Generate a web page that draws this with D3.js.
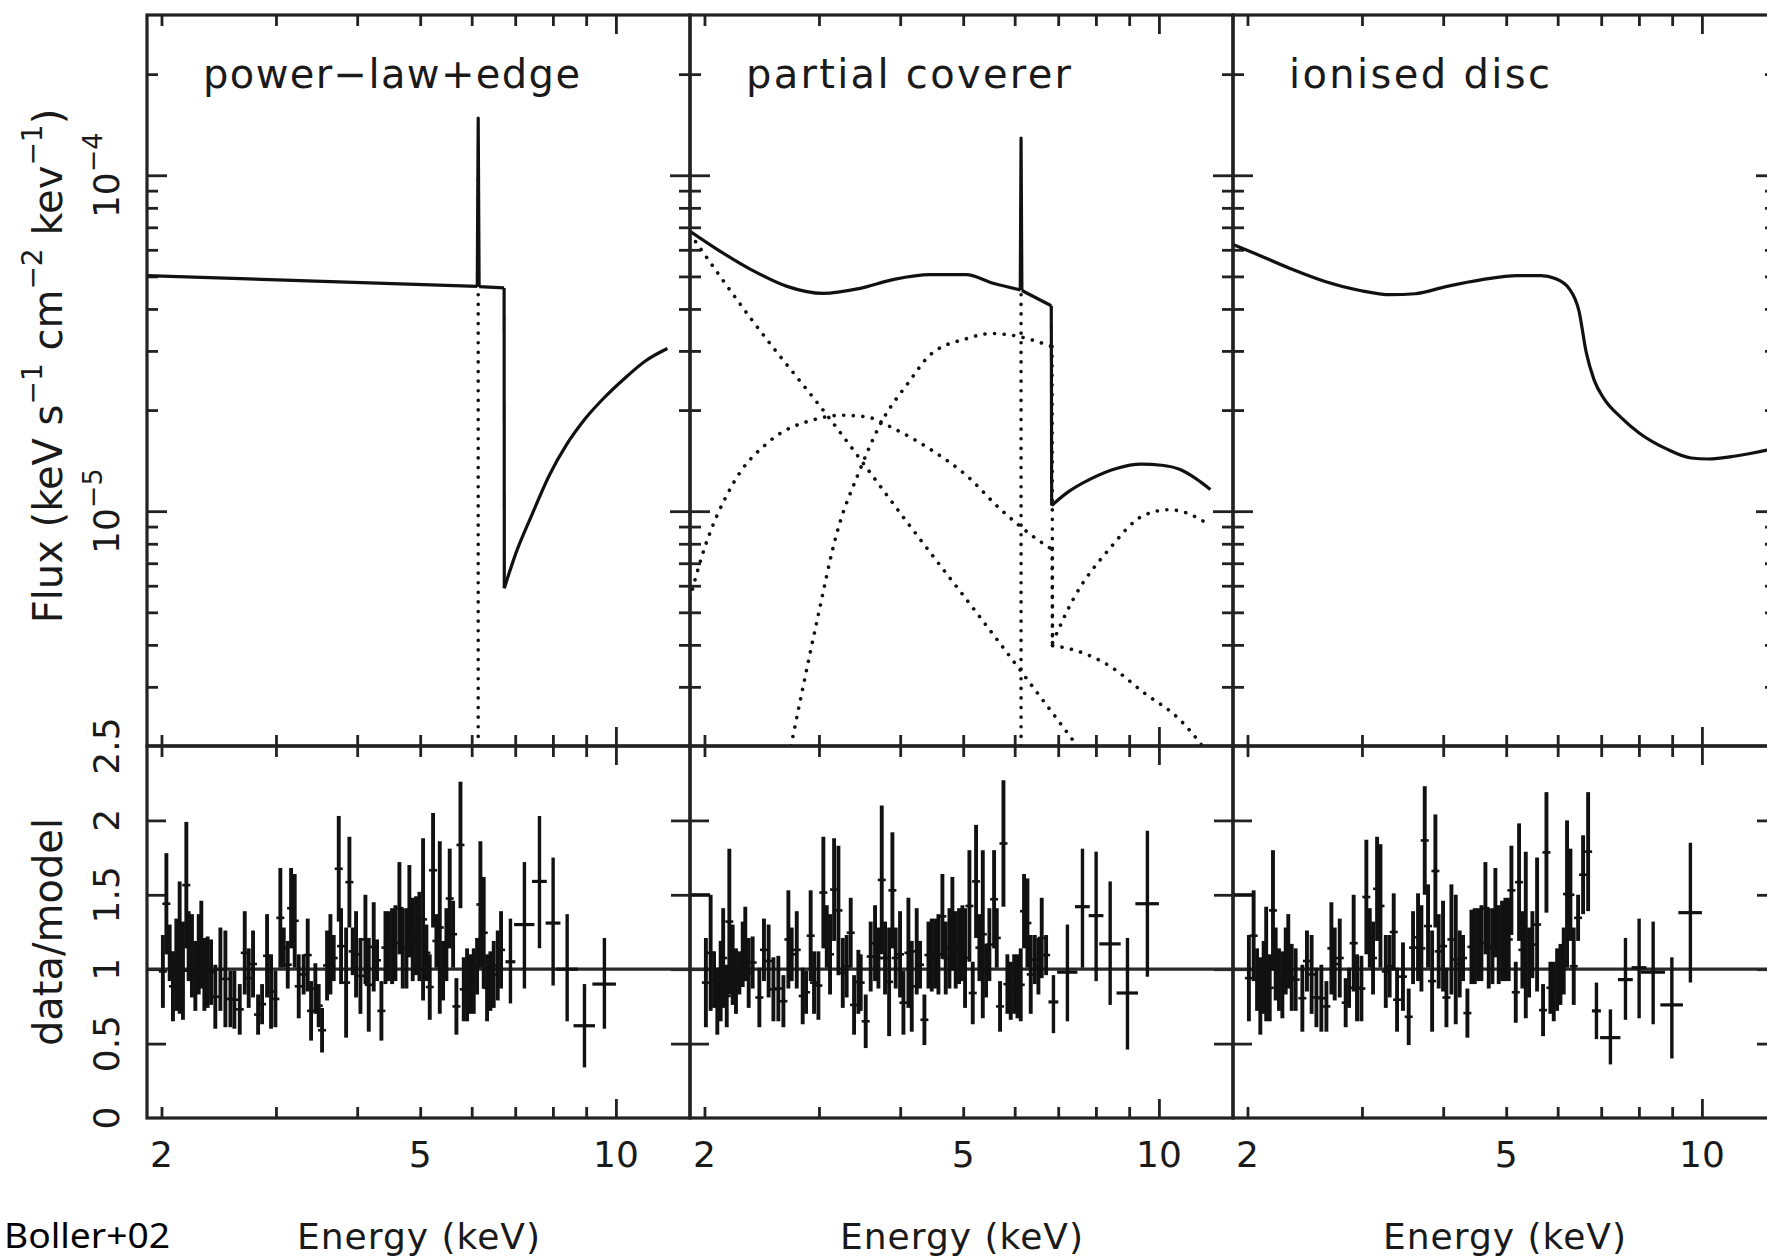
<!DOCTYPE html>
<html>
<head>
<meta charset="utf-8">
<script src="https://cdn.jsdelivr.net/npm/d3@7"></script>
<style>
  body { margin: 0; background: #fff; }
  text { font-family: "DejaVu Sans", sans-serif; fill: #1a1a1a; }
</style>
</head>
<body>
<script>
// three model fits of the same spectrum, upper: model flux, lower: data/model

// ---- axes ----
var energyMinor = [2, 3, 4, 5, 6, 7, 8, 9];
var energyMajor = [10];
var energyLabels = [2, 5, 10];
var fluxMajor = [1e-5, 1e-4];
var fluxMinor = [3e-6, 4e-6, 5e-6, 6e-6, 7e-6, 8e-6, 9e-6, 2e-5, 3e-5, 4e-5, 5e-5, 6e-5, 7e-5, 8e-5, 9e-5, 2e-4];
var fluxLabels = [[1e-5, "5"], [1e-4, "4"]];
var ratioTicks = [0.5, 1, 1.5, 2];
var ratioLabels = [0, 0.5, 1, 1.5, 2, 2.5];
var panelTitles = ["power\u2212law+edge", "partial coverer", "ionised disc"];

// ---- models: [energy keV, flux] pieces ----
var plEdgeModel = [
  [[1.9, 5.03e-5], [6.12, 4.67e-5]],
  [[6.12, 4.67e-5], [6.14, 1.48e-4], [6.16, 4.66e-5]],
  [[6.16, 4.66e-5], [6.73, 4.62e-5]],
  [[6.73, 4.62e-5], [6.735, 5.9e-6]],
  [[6.735, 5.9e-6], [7.0, 7.4e-6], [7.4, 9.6e-6], [7.9, 1.28e-5], [8.4, 1.58e-5], [9.0, 1.9e-5],
   [9.6, 2.18e-5], [10.3, 2.48e-5], [11.1, 2.8e-5], [12.0, 3.05e-5]]
];
var plEdgeLine = [[[6.14, 2e-6], [6.14, 1.0e-4]]];

var pcModel = [
  [[1.9, 6.81e-5], [2.083, 6.05e-5], [2.358, 5.24e-5], [2.679, 4.67e-5], [3.044, 4.45e-5], [3.458, 4.6e-5],
   [3.914, 4.9e-5], [4.447, 5.06e-5], [5.052, 5.06e-5], [5.578, 4.76e-5], [6.12, 4.56e-5]],
  [[6.12, 4.56e-5], [6.137, 1.29e-4], [6.155, 4.54e-5]],
  [[6.155, 4.54e-5], [6.83, 4.09e-5]],
  [[6.83, 4.09e-5], [6.84, 1.04e-5]],
  [[6.84, 1.04e-5], [7.2, 1.13e-5], [7.87, 1.25e-5], [8.6, 1.34e-5], [9.39, 1.38e-5], [10.1, 1.37e-5],
   [10.78, 1.33e-5], [11.4, 1.25e-5], [12.0, 1.16e-5]]
];
var pcSoft = [[[1.9, 6.7e-5], [2.358, 3.74e-5], [3.12, 1.88e-5], [4.129, 9.1e-6], [5.385, 4.66e-6], [7.46, 2.02e-6]]];
var pcHump = [
  [[1.9, 5.5e-6], [1.975, 7.19e-6], [2.22, 1.22e-5], [2.513, 1.61e-5], [2.969, 1.88e-5], [3.244, 1.93e-5],
   [3.545, 1.91e-5], [3.914, 1.76e-5], [4.447, 1.53e-5], [5.052, 1.28e-5], [5.717, 1.01e-5], [6.495, 8.25e-6], [6.85, 7.7e-6]],
  [[6.85, 7.7e-6], [6.86, 3.98e-6]],
  [[6.86, 3.98e-6], [7.378, 3.87e-6], [8.381, 3.47e-6], [9.488, 2.88e-6], [10.78, 2.39e-6], [11.57, 2.04e-6], [12.0, 1.85e-6]]
];
var pcHard = [
  [[2.717, 2.0e-6], [2.969, 4.57e-6], [3.199, 8.66e-6], [3.458, 1.31e-5], [3.725, 1.81e-5], [4.129, 2.43e-5],
   [4.447, 2.92e-5], [5.052, 3.26e-5], [5.52, 3.38e-5], [6.095, 3.31e-5], [6.657, 3.15e-5], [6.85, 3.09e-5]],
  [[6.85, 3.09e-5], [6.86, 4.06e-6]],
  [[6.86, 4.06e-6], [7.378, 5.46e-6], [8.381, 7.7e-6], [9.488, 9.73e-6], [10.37, 1.01e-5], [11.0, 9.9e-6], [11.78, 9.27e-6]]
];
var pcLine = [[[6.137, 2e-6], [6.137, 8.3e-5]]];

var discModel = [
  [[1.9, 6.22e-5], [2.054, 5.85e-5], [2.325, 5.28e-5], [2.632, 4.83e-5], [2.98, 4.54e-5], [3.326, 4.41e-5],
   [3.62, 4.44e-5], [4.055, 4.67e-5], [4.591, 4.89e-5], [5.197, 5.03e-5], [5.658, 5.03e-5], [5.946, 4.93e-5],
   [6.248, 4.6e-5], [6.473, 3.93e-5], [6.636, 2.98e-5], [6.825, 2.46e-5], [7.073, 2.16e-5], [7.513, 1.9e-5],
   [8.006, 1.71e-5], [8.84, 1.53e-5], [9.625, 1.44e-5], [10.22, 1.43e-5], [11.28, 1.46e-5], [12.6, 1.52e-5]]
];

// ---- residuals: narrow bins [energy, low, high] ----
var plEdgeRatio = [
  [2.01,0.74,1.23],[2.035,1.10,1.78],[2.059,0.92,1.30],[2.083,0.65,1.12],[2.108,0.72,1.34],[2.133,0.70,1.59],
  [2.158,0.66,1.32],[2.184,1.14,1.99],[2.202,0.92,1.39],[2.228,0.81,1.37],[2.255,0.72,1.19],[2.282,0.83,1.37],
  [2.303,0.87,1.46],[2.328,0.72,1.21],[2.355,0.74,1.22],[2.384,0.76,1.20],[2.42,0.60,1.03],[2.464,0.72,1.28],
  [2.508,0.61,1.26],[2.553,0.61,0.99],[2.589,0.60,0.99],[2.639,0.56,0.90],[2.686,0.83,1.39],[2.724,0.74,1.14],
  [2.766,0.81,1.26],[2.816,0.56,0.83],[2.856,0.63,0.90],[2.907,0.81,1.37],[2.948,0.60,1.10],[2.994,0.61,0.99],
  [3.047,1.01,1.68],[3.084,1.01,1.28],[3.128,0.87,1.19],[3.165,1.14,1.68],[3.206,1.01,1.64],[3.252,0.67,1.10],
  [3.309,0.83,1.10],[3.357,0.85,1.34],[3.397,0.52,0.92],[3.449,0.70,1.04],[3.49,0.61,0.90],[3.532,0.44,0.74],
  [3.595,0.79,1.26],[3.638,0.83,1.37],[3.681,0.92,1.23],[3.747,1.32,2.03],[3.778,0.90,1.41],[3.846,0.54,1.28],
  [3.891,1.28,1.89],[3.937,0.96,1.28],[3.984,0.81,1.39],[4.046,0.70,1.21],[4.118,0.90,1.50],[4.167,0.58,1.21],
  [4.241,0.85,1.45],[4.291,0.92,1.20],[4.358,0.52,0.92],[4.421,0.90,1.39],[4.473,0.92,1.39],[4.526,0.90,1.41],
  [4.58,0.92,1.43],[4.645,1.10,1.72],[4.70,0.87,1.41],[4.762,0.87,1.41],[4.812,1.08,1.70],[4.869,0.92,1.48],
  [4.927,0.96,1.49],[4.986,0.92,1.52],[5.051,0.79,1.88],[5.111,0.92,1.30],[5.172,0.66,1.10],[5.233,1.28,2.05],
  [5.295,1.01,1.37],[5.359,0.70,1.86],[5.422,0.79,1.19],[5.486,0.92,1.41],[5.551,1.14,1.81],[5.618,1.01,1.46],
  [5.684,0.56,0.94],[5.766,1.41,2.26],[5.834,0.65,1.08],[5.903,0.65,1.14],[5.972,0.70,1.10],[6.044,0.70,1.14],
  [6.116,0.83,1.21],[6.188,1.01,1.86],[6.261,0.87,1.62],[6.336,0.65,1.10],[6.411,0.72,1.12],[6.487,0.74,1.19],
  [6.58,0.79,1.26],[6.658,0.87,1.39]
];
var pcRatio = [
  [2.01,0.61,1.21],[2.044,0.72,1.50],[2.069,0.74,1.12],[2.093,0.56,1.01],[2.118,0.65,1.19],[2.137,0.74,1.41],
  [2.164,0.61,1.03],[2.184,0.83,1.81],[2.21,0.76,1.30],[2.236,0.70,1.14],[2.263,0.83,1.12],[2.29,0.88,1.32],
  [2.311,0.92,1.42],[2.339,0.74,1.21],[2.372,0.87,1.22],[2.429,0.61,1.01],[2.469,0.92,1.34],[2.51,0.81,1.30],
  [2.553,0.65,1.08],[2.598,0.65,1.09],[2.645,0.61,0.96],[2.692,0.87,1.53],[2.724,0.92,1.28],[2.773,0.87,1.39],
  [2.832,0.63,1.01],[2.866,0.70,0.99],[2.913,0.92,1.53],[2.948,0.70,1.12],[2.994,0.66,1.12],[3.047,1.14,1.89],
  [3.084,1.01,1.43],[3.12,0.83,1.37],[3.165,1.19,1.88],[3.214,0.96,1.83],[3.264,0.74,1.21],[3.309,0.81,1.23],
  [3.357,1.01,1.48],[3.397,0.56,0.96],[3.449,0.70,1.13],[3.478,0.72,1.10],[3.54,0.47,0.83],[3.603,0.85,1.32],
  [3.659,0.92,1.43],[3.703,0.87,1.28],[3.747,1.10,2.10],[3.791,0.83,1.32],[3.846,0.55,1.28],[3.891,1.14,1.92],
  [3.937,0.87,1.28],[3.998,0.81,1.39],[4.046,0.56,0.99],[4.118,0.74,1.48],[4.167,0.58,1.19],[4.241,0.83,1.41],
  [4.291,0.87,1.19],[4.358,0.49,0.83],[4.421,0.87,1.32],[4.473,0.85,1.34],[4.526,0.87,1.34],[4.58,0.83,1.37],
  [4.645,1.07,1.64],[4.70,0.83,1.32],[4.762,0.87,1.41],[4.812,0.99,1.62],[4.869,0.87,1.39],[4.927,0.90,1.41],
  [4.986,0.92,1.43],[5.033,0.74,1.41],[5.111,1.05,1.80],[5.172,0.63,1.05],[5.233,1.21,1.97],[5.295,0.92,1.37],
  [5.359,0.67,1.80],[5.422,0.81,1.17],[5.486,0.92,1.41],[5.578,1.14,1.80],[5.631,1.01,1.41],[5.697,0.58,0.92],
  [5.766,1.42,2.27],[5.847,0.70,1.10],[5.917,0.66,1.05],[5.988,0.70,1.10],[6.059,0.67,1.10],[6.13,0.65,1.14],
  [6.202,1.14,1.64],[6.277,1.01,1.61],[6.351,0.70,1.23],[6.443,0.90,1.23],[6.526,0.83,1.21],[6.603,0.94,1.48],
  [6.706,0.96,1.23]
];
var discRatio = [
  [2.01,0.65,1.23],[2.044,0.92,1.53],[2.069,0.72,1.14],[2.093,0.56,1.08],[2.118,0.70,1.19],[2.137,0.65,1.42],
  [2.164,0.65,1.10],[2.189,0.99,1.80],[2.21,0.79,1.28],[2.236,0.72,1.14],[2.263,0.67,1.12],[2.29,0.83,1.28],
  [2.311,0.87,1.37],[2.339,0.72,1.17],[2.372,0.72,1.14],[2.429,0.58,1.03],[2.469,0.85,1.26],[2.51,0.70,1.23],
  [2.553,0.61,1.01],[2.598,0.58,1.03],[2.645,0.58,0.92],[2.692,0.83,1.45],[2.724,0.79,1.28],[2.773,0.81,1.34],
  [2.832,0.61,0.94],[2.866,0.74,1.01],[2.913,0.85,1.50],[2.948,0.65,1.10],[2.994,0.65,1.09],[3.047,1.10,1.87],
  [3.084,1.01,1.41],[3.12,0.83,1.32],[3.165,1.19,1.89],[3.203,1.01,1.84],[3.264,0.74,1.23],[3.309,0.81,1.23],
  [3.357,0.99,1.51],[3.397,0.58,1.01],[3.469,0.72,1.18],[3.54,0.49,0.87],[3.595,0.90,1.39],[3.659,0.92,1.51],
  [3.703,0.85,1.43],[3.747,1.50,2.23],[3.791,1.01,1.57],[3.846,0.58,1.26],[3.891,1.28,2.04],[3.937,0.87,1.37],
  [3.998,0.85,1.46],[4.046,0.61,1.01],[4.118,0.83,1.57],[4.182,0.63,1.50],[4.241,0.81,1.26],[4.291,0.92,1.23],
  [4.358,0.54,0.87],[4.421,0.90,1.40],[4.473,0.90,1.41],[4.526,0.92,1.41],[4.58,0.92,1.43],[4.645,1.10,1.72],
  [4.70,0.87,1.41],[4.762,0.90,1.41],[4.812,1.08,1.68],[4.869,0.90,1.43],[4.927,0.92,1.46],[4.986,0.92,1.48],
  [5.045,0.92,1.48],[5.093,1.23,1.83],[5.172,0.64,1.05],[5.233,1.19,1.98],[5.295,0.87,1.39],[5.359,0.67,1.79],
  [5.422,0.81,1.28],[5.486,0.94,1.39],[5.578,0.85,1.75],[5.697,0.55,0.90],[5.766,1.38,2.19],[5.847,0.70,1.05],
  [5.917,0.65,1.05],[5.988,0.72,1.14],[6.059,0.76,1.17],[6.13,0.83,1.28],[6.202,1.01,2.00],[6.277,1.19,1.81],
  [6.351,0.76,1.28],[6.45,1.19,1.50],[6.565,1.37,1.90],[6.683,1.39,2.19]
];

// ---- residuals: wide bins [energy, half width, ratio, low, high] ----
var plEdgeWide = [
  [6.883,0.12,1.05,0.77,1.34],[7.232,0.26,1.30,0.87,1.72],[7.628,0.20,1.59,1.14,2.03],[8.006,0.21,1.31,0.89,1.75],
  [8.414,0.32,1.00,0.65,1.37],[8.946,0.34,0.62,0.34,0.90],[9.6,0.40,0.90,0.60,1.21]
];
var pcWide = [
  [1.97,0.07,1.5,1.5,1.5],
  [6.883,0.12,0.78,0.57,0.96],[7.232,0.26,0.98,0.65,1.30],[7.628,0.20,1.42,1.01,1.81],[8.006,0.21,1.36,0.92,1.79],
  [8.414,0.32,1.17,0.76,1.59],[8.946,0.34,0.84,0.46,1.21],[9.6,0.40,1.44,0.95,1.93]
];
var discWide = [
  [1.97,0.07,1.5,1.5,1.5],
  [6.883,0.11,0.72,0.53,0.91],[7.232,0.26,0.54,0.36,0.73],[7.628,0.20,0.93,0.66,1.21],[8.006,0.21,1.01,0.67,1.34],
  [8.414,0.36,0.98,0.63,1.32],[8.99,0.36,0.76,0.40,1.08],[9.6,0.40,1.38,0.91,1.85]
];

var panels = [
  {title: panelTitles[0], titleLen: 377, solid: [plEdgeModel], dotted: [plEdgeLine], narrow: plEdgeRatio, wide: plEdgeWide},
  {title: panelTitles[1], titleLen: 325, solid: [pcModel], dotted: [pcSoft, pcHump, pcHard, pcLine], narrow: pcRatio, wide: pcWide},
  {title: panelTitles[2], titleLen: 261, solid: [discModel], dotted: [], narrow: discRatio, wide: discWide}
];

// ---- layout ----
var svgWidth = 1767, svgHeight = 1259;
var margin = {top: 15, left: 147};
var panelW = 543, topH = 731, botH = 372;
var ink = "#111";

var svg = d3.select("body").append("svg")
  .attr("width", svgWidth)
  .attr("height", svgHeight);

svg.append("rect").attr("width", svgWidth).attr("height", svgHeight).attr("fill", "#fff");

var xScale = d3.scaleLog().domain([1.9, 13]).range([0, panelW]);
var yFlux = d3.scaleLog().domain([2e-6, 3e-4]).range([topH, 0]);
var yRatio = d3.scaleLinear().domain([0, 2.5]).range([topH + botH, topH]);

svg.append("defs").append("clipPath").attr("id", "upperClip")
  .append("rect").attr("width", panelW).attr("height", topH);

function tickGroup(g, axis, tx, ty) {
  g.append("g")
    .attr("transform", `translate(${tx},${ty})`)
    .call(axis)
    .call(s => s.select(".domain").remove())
    .call(s => s.selectAll("text").remove())
    .call(s => s.selectAll("line").attr("stroke", "#222").attr("stroke-width", 2.8));
}

var modelLine = d3.line()
  .x(d => xScale(d[0]))
  .y(d => yFlux(d[1]));

panels.forEach(function(p, i) {
  var g = svg.append("g")
    .attr("transform", `translate(${margin.left + i * panelW}, ${margin.top})`);

  // energy ticks, four horizontal edges
  [[energyMinor, 11], [energyMajor, 19]].forEach(function(t) {
    tickGroup(g, d3.axisBottom(xScale).tickValues(t[0]).tickSize(t[1]), 0, 0);
    tickGroup(g, d3.axisTop(xScale).tickValues(t[0]).tickSize(t[1]), 0, topH);
    tickGroup(g, d3.axisBottom(xScale).tickValues(t[0]).tickSize(t[1]), 0, topH);
    tickGroup(g, d3.axisTop(xScale).tickValues(t[0]).tickSize(t[1]), 0, topH + botH);
  });

  // flux ticks
  [[fluxMinor, 11], [fluxMajor, 20]].forEach(function(t) {
    tickGroup(g, d3.axisRight(yFlux).tickValues(t[0]).tickSize(t[1]), 0, 0);
    tickGroup(g, d3.axisLeft(yFlux).tickValues(t[0]).tickSize(t[1]), panelW, 0);
  });

  // ratio ticks
  tickGroup(g, d3.axisRight(yRatio).tickValues(ratioTicks).tickSize(19), 0, 0);
  tickGroup(g, d3.axisLeft(yRatio).tickValues(ratioTicks).tickSize(19), panelW, 0);

  // model curves
  var models = g.append("g").attr("clip-path", "url(#upperClip)");
  p.dotted.forEach(function(comp) {
    comp.forEach(function(piece) {
      models.append("path")
        .attr("d", modelLine.curve(piece.length > 3 ? d3.curveMonotoneX : d3.curveLinear)(piece))
        .attr("fill", "none")
        .attr("stroke", ink)
        .attr("stroke-width", 3.6)
        .attr("stroke-linecap", "round")
        .attr("stroke-dasharray", "0.1 9.5");
    });
  });
  p.solid.forEach(function(comp) {
    comp.forEach(function(piece) {
      models.append("path")
        .attr("d", modelLine.curve(piece.length > 3 ? d3.curveMonotoneX : d3.curveLinear)(piece))
        .attr("fill", "none")
        .attr("stroke", ink)
        .attr("stroke-width", 3.2)
        .attr("stroke-linejoin", "round");
    });
  });

  // unity line
  g.append("line")
    .attr("x1", 0).attr("x2", panelW)
    .attr("y1", yRatio(1)).attr("y2", yRatio(1))
    .attr("stroke", "#2a2a2a").attr("stroke-width", 3.2);

  // residual error bars
  var bars = g.append("g").attr("stroke", ink).attr("stroke-width", 3.9);
  p.narrow.forEach(function(d) {
    var x = xScale(d[0]);
    bars.append("line")
      .attr("x1", x).attr("x2", x)
      .attr("y1", yRatio(d[1])).attr("y2", yRatio(d[2]));
    var ym = yRatio((d[1] + d[2]) / 2);
    bars.append("line")
      .attr("x1", x - 4).attr("x2", x + 4)
      .attr("y1", ym).attr("y2", ym)
      .attr("stroke-width", 2.6);
  });
  p.wide.forEach(function(d) {
    var x = xScale(d[0]);
    bars.append("line")
      .attr("x1", xScale(d[0] - d[1])).attr("x2", xScale(d[0] + d[1]))
      .attr("y1", yRatio(d[2])).attr("y2", yRatio(d[2]))
      .attr("stroke-width", 3.2);
    if (d[4] > d[3]) {
      bars.append("line")
        .attr("x1", x).attr("x2", x)
        .attr("y1", yRatio(d[3])).attr("y2", yRatio(d[4]))
        .attr("stroke-width", 3.4);
    }
  });

  // frames
  g.append("rect").attr("width", panelW).attr("height", topH)
    .attr("fill", "none").attr("stroke", "#222").attr("stroke-width", 3.2);
  g.append("rect").attr("y", topH).attr("width", panelW).attr("height", botH)
    .attr("fill", "none").attr("stroke", "#222").attr("stroke-width", 3.2);

  // title
  g.append("text")
    .attr("x", 56).attr("y", 73)
    .attr("textLength", p.titleLen)
    .attr("lengthAdjust", "spacing")
    .style("font-size", "40px")
    .text(p.title);

  // energy labels
  energyLabels.forEach(function(v) {
    g.append("text")
      .attr("x", xScale(v)).attr("y", 1152)
      .attr("text-anchor", "middle")
      .style("font-size", "36px")
      .text(v);
  });
  g.append("text")
    .attr("x", panelW / 2).attr("y", 1234)
    .attr("text-anchor", "middle")
    .attr("textLength", 243)
    .attr("lengthAdjust", "spacing")
    .style("font-size", "36px")
    .text("Energy (keV)");
});

// rotated tick labels, left side
fluxLabels.forEach(function(d) {
  var t = svg.append("text")
    .attr("transform", `translate(119, ${margin.top + yFlux(d[0])}) rotate(-90)`)
    .attr("text-anchor", "middle")
    .style("font-size", "36px");
  t.append("tspan").text("10");
  t.append("tspan").attr("dy", -17).style("font-size", "27px").text("\u2212" + d[1]);
});
ratioLabels.forEach(function(v) {
  svg.append("text")
    .attr("transform", `translate(119, ${margin.top + yRatio(v)}) rotate(-90)`)
    .attr("text-anchor", "middle")
    .style("font-size", "36px")
    .text(v);
});

// axis titles
var fluxTitle = svg.append("text")
  .attr("transform", "translate(62, 366) rotate(-90)")
  .attr("text-anchor", "middle")
  .style("font-size", "40px");
fluxTitle.append("tspan").text("Flux (keV s");
fluxTitle.append("tspan").attr("dy", -20).style("font-size", "28px").text("\u22121");
fluxTitle.append("tspan").attr("dy", 20).text(" cm");
fluxTitle.append("tspan").attr("dy", -20).style("font-size", "28px").text("\u22122");
fluxTitle.append("tspan").attr("dy", 20).text(" kev");
fluxTitle.append("tspan").attr("dy", -20).style("font-size", "28px").text("\u22121");
fluxTitle.append("tspan").attr("dy", 20).text(")");

svg.append("text")
  .attr("transform", `translate(62, ${margin.top + (yRatio(0) + yRatio(2.5)) / 2}) rotate(-90)`)
  .attr("text-anchor", "middle")
  .style("font-size", "40px")
  .text("data/model");

// citation
svg.append("text")
  .attr("x", 4).attr("y", 1248)
  .attr("textLength", 166)
  .attr("lengthAdjust", "spacingAndGlyphs")
  .style("font-family", "'Noto Sans', sans-serif")
  .style("font-size", "34px")
  .style("fill", "#000")
  .text("Boller+02");
</script>
</body>
</html>
